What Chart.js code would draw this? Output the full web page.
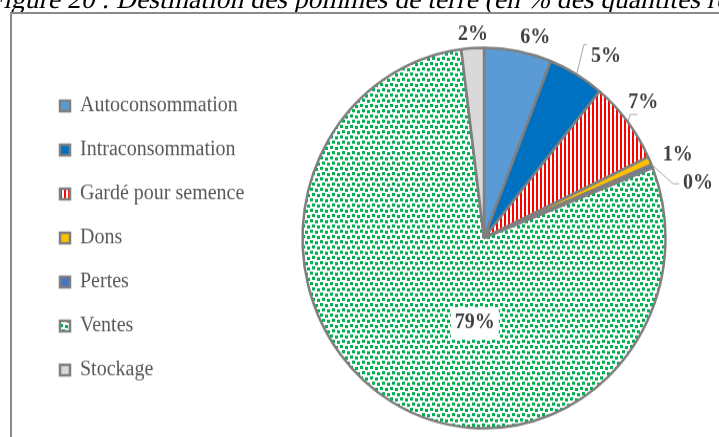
<!DOCTYPE html>
<html>
<head>
<meta charset="utf-8">
<script src="https://cdn.jsdelivr.net/npm/chart.js@4.4.1/dist/chart.umd.min.js"></script>
<style>
  html, body { margin: 0; padding: 0; background: #fff; overflow: hidden; width: 719px; height: 437px; }
  #caption { position: absolute; left: 0; top: 0; }
  .frame { position: absolute; left: 10px; top: 12px; width: 780px; height: 480px; border: 2px solid #8a8a8a; }
  .wrap { position: absolute; left: 0; top: 0; width: 760px; height: 437px; transform: scaleY(1.048); transform-origin: 0 238px; }
</style>
</head>
<body>
<canvas id="caption" width="719" height="14" aria-label="Figure 20 : Destination des pommes de terre (en % des quantités récoltées)"></canvas>
<div class="frame"></div>
<div class="wrap"><canvas id="pie" width="760" height="437"></canvas></div>
<script>
// Données
const title = 'Figure 20 : Destination des pommes de terre (en % des quantités récoltées)';
const categories = ['Autoconsommation', 'Intraconsommation', 'Gardé pour semence', 'Dons', 'Pertes', 'Ventes', 'Stockage'];
const shares = [6, 5, 7, 0.7, 0.3, 79, 2];

// Style
const W = 760;
const PIE_CX = 484;
const serif = '"Liberation Serif", "Times New Roman", serif';
const labelFont = 'bold 20px ' + serif;
// décalage des étiquettes (px) par rapport au bord de la part (ou au centre pour la part intérieure)
const labelNudge = [[17, -11.5], [29, -16.5], [15, -17], [27, -5], [45, 17], [37, 3], [0.5, -12.5]];
const labelInside = [false, false, false, false, false, true, false];
const leaderSide = [null, 'top', 'bottom', null, 'left', null, null];

// légende de la figure (coupée en haut comme sur l'original)
(function drawCaption() {
  const g = document.getElementById('caption').getContext('2d');
  const base = 8, skew = 0.22;
  g.setTransform(1, 0, -skew, 1, skew * base, 0);
  g.font = '27.6px ' + serif;
  g.fillStyle = '#000';
  g.textBaseline = 'alphabetic';
  g.fillText(title, -12, base);
})();

function stripes() {
  const c = document.createElement('canvas');
  c.width = 4; c.height = 4;
  const g = c.getContext('2d');
  g.fillStyle = '#ffffff'; g.fillRect(0, 0, 4, 4);
  g.fillStyle = '#ff0000'; g.fillRect(0, 0, 2, 4);
  return g.createPattern(c, 'repeat');
}

function confetti() {
  const c = document.createElement('canvas');
  c.width = 10; c.height = 10;
  const g = c.getContext('2d');
  g.fillStyle = '#ffffff'; g.fillRect(0, 0, 10, 10);
  g.fillStyle = '#00b050';
  [[0, 0], [5, 1], [2, 5], [7, 6]].forEach(d => g.fillRect(d[0], d[1], 3, 3));
  return g.createPattern(c, 'repeat');
}

const colors = ['#5b9bd5', '#0070c0', stripes(), '#ffc000', '#4472c4', confetti(), '#d9d9d9'];

const sliceLabels = {
  id: 'sliceLabels',
  afterDatasetsDraw(chart) {
    const ctx = chart.ctx;
    const meta = chart.getDatasetMeta(0);
    ctx.save();
    ctx.font = labelFont;
    ctx.textAlign = 'center';
    ctx.textBaseline = 'middle';
    meta.data.forEach((arc, i) => {
      const p = arc.getProps(['x', 'y', 'startAngle', 'endAngle', 'outerRadius'], true);
      const mid = (p.startAngle + p.endAngle) / 2;
      const text = Math.round(shares[i]) + '%';
      const w = ctx.measureText(text).width;
      let cx, cy;
      if (labelInside[i]) {
        const t = arc.tooltipPosition(true);
        cx = t.x + labelNudge[i][0];
        cy = t.y + labelNudge[i][1];
        ctx.fillStyle = '#ffffff';
        ctx.fillRect(cx - w / 2 - 4, cy - 15, w + 8, 30);
      } else {
        const r = p.outerRadius + 1;
        const ex = p.x + Math.cos(mid) * r;
        const ey = p.y + Math.sin(mid) * r;
        cx = ex + labelNudge[i][0];
        cy = ey + labelNudge[i][1];
        const side = leaderSide[i];
        if (side) {
          const bl = cx - w / 2 - 4, bt = cy - 11, bb = cy + 11;
          let ax, ay, kx;
          if (side === 'top') { ax = bl; ay = bt; kx = bl - 3; }
          else if (side === 'bottom') { ax = bl + 13; ay = bb; kx = bl + 6; }
          else { ax = bl; ay = cy; kx = bl - 6; }
          ctx.strokeStyle = '#a6a6a6';
          ctx.lineWidth = 1;
          ctx.beginPath();
          ctx.moveTo(ex, ey);
          ctx.lineTo(kx, ay);
          ctx.lineTo(ax, ay);
          ctx.stroke();
        }
      }
      ctx.fillStyle = '#404040';
      ctx.fillText(text, cx, cy);
    });
    ctx.restore();
  }
};

const chart = new Chart(document.getElementById('pie').getContext('2d'), {
  type: 'pie',
  data: {
    labels: categories,
    datasets: [{
      data: shares,
      backgroundColor: colors,
      borderColor: '#7f7f7f',
      borderWidth: 2.5
    }]
  },
  options: {
    responsive: false,
    animation: false,
    events: [],
    layout: { padding: { left: 38, right: 0, top: 55.25, bottom: 16.25 } },
    plugins: {
      tooltip: { enabled: false },
      legend: {
        position: 'left',
        labels: {
          boxWidth: 10,
          boxHeight: 10,
          padding: 22,
          color: '#595959',
          font: { family: serif, size: 20 }
        }
      }
    }
  },
  plugins: [sliceLabels]
});

// centrer le camembert à PIE_CX
chart.options.layout.padding.right = W - (2 * PIE_CX - chart.chartArea.left);
chart.update('none');
</script>
</body>
</html>
